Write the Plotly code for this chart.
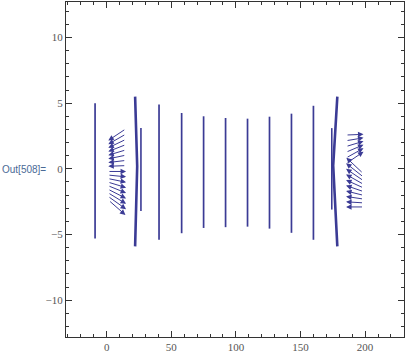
import plotly.graph_objects as go

# ---- data ----
# straight vertical columns of (overlapping) long arrows
col_x   = [-9.0, 40.5, 58.0, 75.0, 92.0, 109.0, 126.0, 143.0, 160.0]
col_top = [5.0, 4.9, 4.25, 4.0, 3.87, 3.82, 3.97, 4.2, 4.8]
col_bot = [-5.3, -5.4, -4.9, -4.5, -4.44, -4.4, -4.55, -4.87, -5.4]

# bowed dense columns (top, middle, bottom)
bow_left_x  = [22.0, 23.6, 22.0]
bow_left_y  = [5.5, 0.2, -5.9]
bow_right_x = [178.5, 175.3, 178.5]
bow_right_y = [5.5, 0.25, -5.9]
inner_x   = [26.5, 174.2]
inner_top = [3.1, 3.1]
inner_bot = [-3.2, -3.1]

# left fan of arrows (centre x, y, u, v)
lf_x = 8.0
lf_y = [2.6, 2.26, 1.92, 1.58, 1.24, 0.9, 0.56, 0.22,
        -0.2, -0.54, -0.88, -1.22, -1.56, -1.9, -2.24, -2.58, -2.95]
lf_u = [-13.5, -13.5, -13.5, -13.5, -13.5, -13.5, -13.5, -13.5,
        14.0, 14.0, 14.0, 14.0, 14.0, 14.0, 14.0, 14.0, 13.0]
lf_v = [-0.88, -0.76, -0.64, -0.52, -0.40, -0.28, -0.16, -0.05,
        0.0, -0.14, -0.28, -0.42, -0.56, -0.7, -0.84, -0.98, -1.12]

# right fan of arrows
rf_x = 192.0
rf_y = [2.6, 2.25, 1.9, 1.55, 1.2, 0.85,
        0.25, -0.1, -0.45, -0.8, -1.15, -1.5, -1.85, -2.2, -2.55, -2.9]
rf_u = [13.5, 13.5, 13.5, 13.5, 13.5, 13.5,
        -13.0, -13.5, -13.5, -13.5, -13.5, -13.5, -13.5, -13.5, -13.5, -13.5]
rf_v = [0.05, 0.22, 0.4, 0.57, 0.74, 0.9,
        1.2, 1.05, 0.9, 0.75, 0.6, 0.46, 0.33, 0.2, 0.08, 0.0]

x_ticks = [0, 50, 100, 150, 200]
y_ticks = [-10, -5, 0, 5, 10]

COL = '#3b3b95'

fig = go.Figure()

xs, ys = [], []
for x, t, b in zip(col_x, col_top, col_bot):
    xs += [x, x, None]
    ys += [b, t, None]
fig.add_trace(go.Scatter(x=xs, y=ys, mode='lines', line=dict(color=COL, width=1.7),
                         hoverinfo='skip', showlegend=False))

xs, ys = [], []
for x, t, b in zip(inner_x, inner_top, inner_bot):
    xs += [x, x, None]
    ys += [b, t, None]
fig.add_trace(go.Scatter(x=xs, y=ys, mode='lines', line=dict(color=COL, width=1.6),
                         hoverinfo='skip', showlegend=False))

for bx, by in [(bow_left_x, bow_left_y), (bow_right_x, bow_right_y)]:
    fig.add_trace(go.Scatter(x=bx, y=by, mode='lines', line=dict(color=COL, width=2.6),
                             hoverinfo='skip', showlegend=False))

anns = []
for cx, ylist, ulist, vlist in [(lf_x, lf_y, lf_u, lf_v), (rf_x, rf_y, rf_u, rf_v)]:
    for y, u, v in zip(ylist, ulist, vlist):
        anns.append(dict(x=cx + u / 2, y=y + v / 2, ax=cx - u / 2, ay=y - v / 2,
                         xref='x', yref='y', axref='x', ayref='y', text='',
                         showarrow=True, arrowhead=2, arrowsize=1.1, arrowwidth=1.0,
                         arrowcolor=COL))

anns.append(dict(x=-66 / 338, y=0.5 + 0.5 / 340, xref='paper', yref='paper',
                 xanchor='left', yanchor='middle', text='Out[508]=', showarrow=False,
                 font=dict(family='Liberation Sans', size=10, color='#4a6a96')))

fig.update_layout(
    width=407, height=354,
    margin=dict(l=66, r=3, t=1, b=13),
    paper_bgcolor='white', plot_bgcolor='white',
    annotations=anns,
    font=dict(family='Liberation Serif', size=11, color='#555555'),
)
fig.update_xaxes(range=[-31.5, 230.1], tickvals=x_ticks, ticks='inside', ticklen=6,
                 tickcolor='#333', showline=True, linecolor='#333', linewidth=1,
                 mirror='ticks', showgrid=False, zeroline=False,
                 tickfont=dict(family='Liberation Serif', size=11, color='#555555'),
                 minor=dict(ticks='inside', dtick=10, tick0=0, ticklen=3, tickcolor='#333',
                            showgrid=False))
fig.update_yaxes(range=[-12.8, 12.7], tickvals=y_ticks, ticks='inside', ticklen=6,
                 tickcolor='#333', showline=True, linecolor='#333', linewidth=1,
                 mirror='ticks', showgrid=False, zeroline=False,
                 tickfont=dict(family='Liberation Serif', size=11, color='#555555'),
                 minor=dict(ticks='inside', dtick=1, tick0=0, ticklen=3, tickcolor='#333',
                            showgrid=False))

fig.write_html('out.html')
